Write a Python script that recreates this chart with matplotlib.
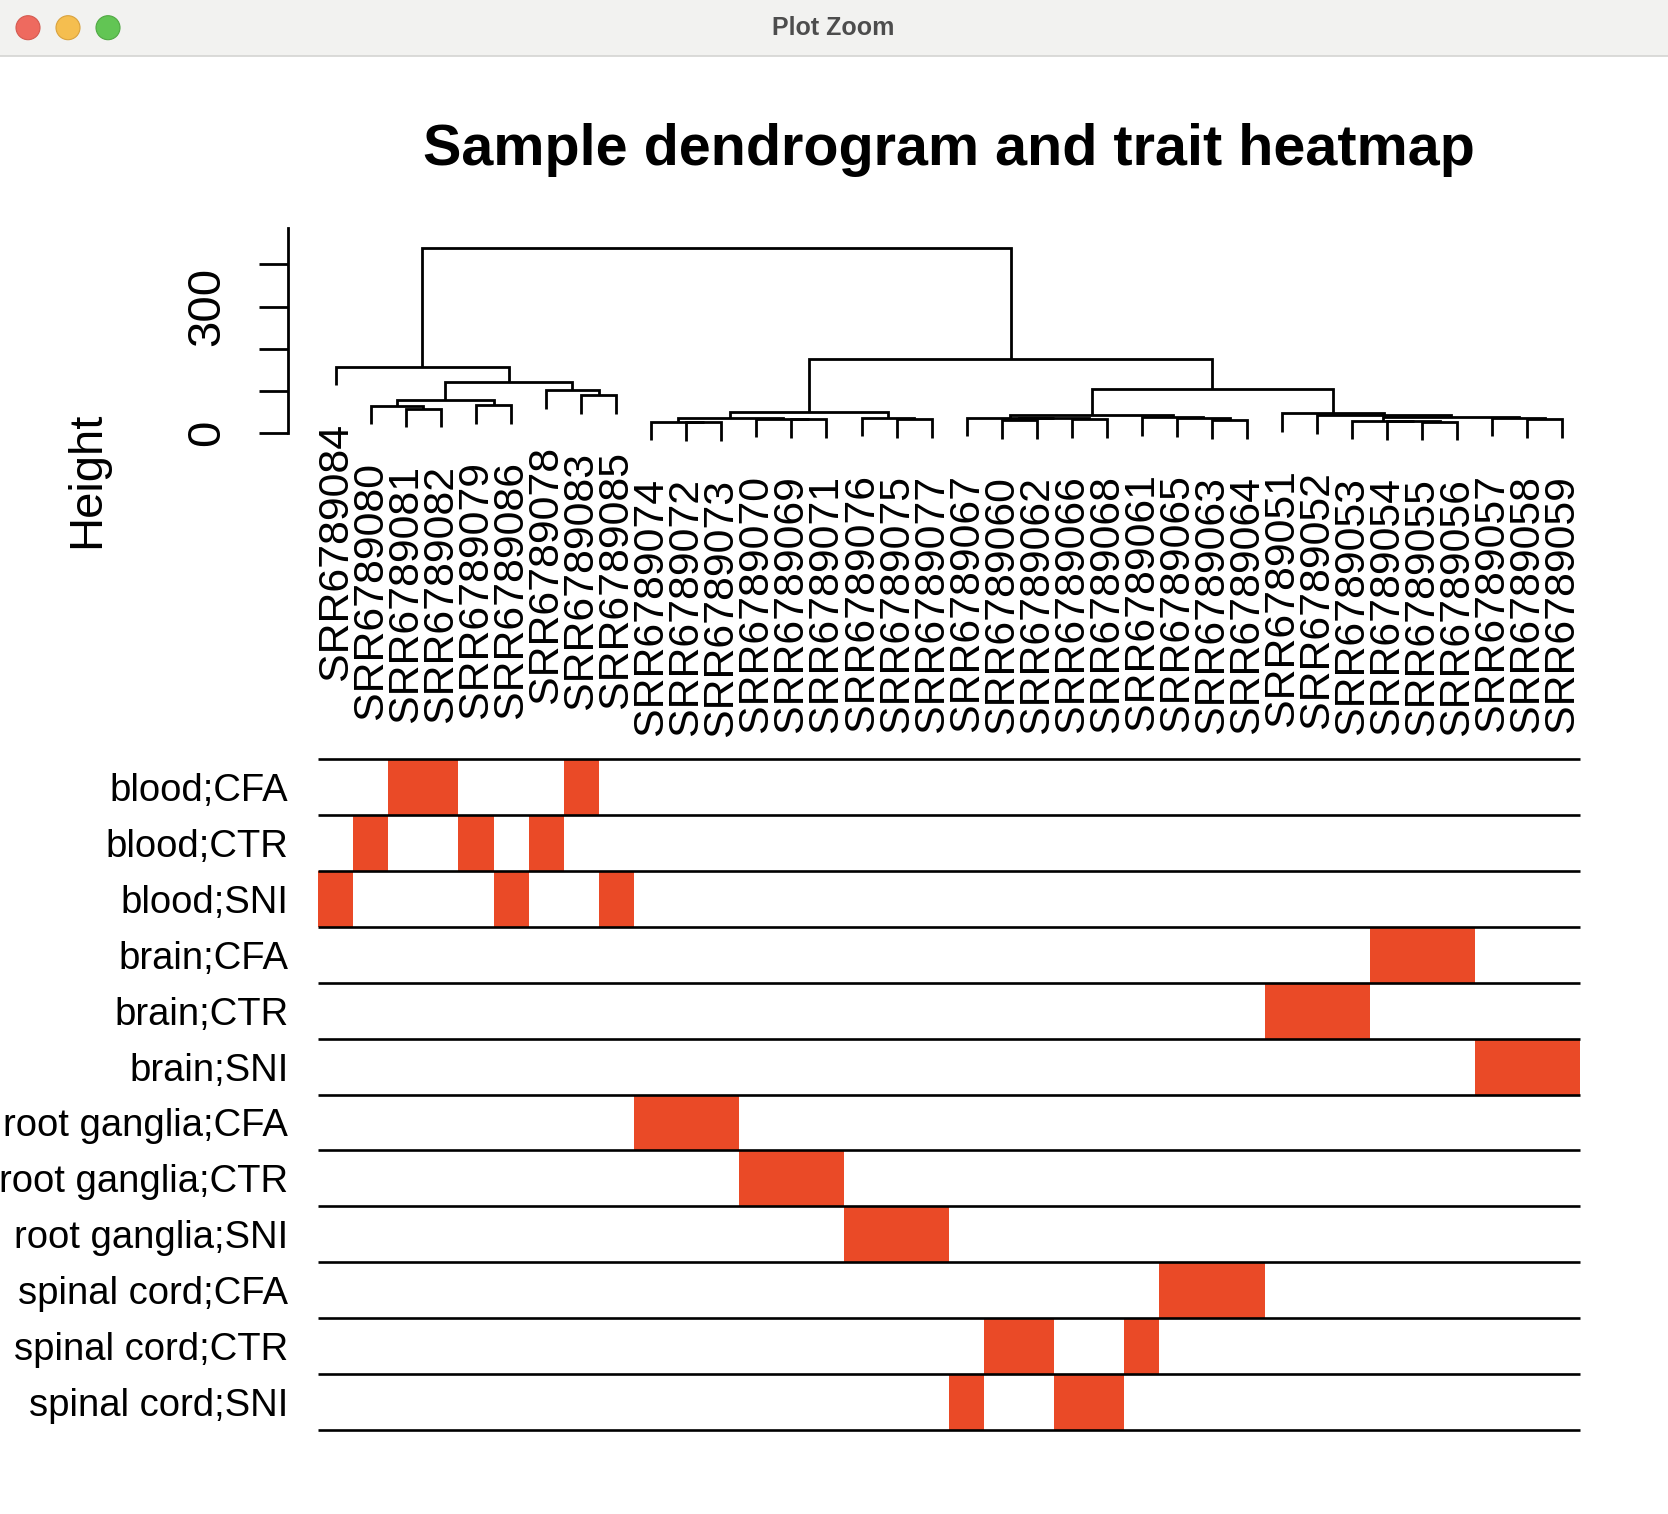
import matplotlib
matplotlib.use("Agg")
import matplotlib.pyplot as plt
import numpy as np
from matplotlib.colors import ListedColormap
from matplotlib.patches import Rectangle, Circle

plt.rcParams['font.family'] = ['Liberation Sans', 'DejaVu Sans']

# ---------------- data ----------------
sample_labels = ["SRR6789084", "SRR6789080", "SRR6789081", "SRR6789082", "SRR6789079",
                 "SRR6789086", "SRR6789078", "SRR6789083", "SRR6789085", "SRR6789074",
                 "SRR6789072", "SRR6789073", "SRR6789070", "SRR6789069", "SRR6789071",
                 "SRR6789076", "SRR6789075", "SRR6789077", "SRR6789067", "SRR6789060",
                 "SRR6789062", "SRR6789066", "SRR6789068", "SRR6789061", "SRR6789065",
                 "SRR6789063", "SRR6789064", "SRR6789051", "SRR6789052", "SRR6789053",
                 "SRR6789054", "SRR6789055", "SRR6789056", "SRR6789057", "SRR6789058",
                 "SRR6789059"]

# hierarchical merges: children are sample names or earlier merge numbers (1-based)
merge_left = ["SRR6789081", "SRR6789080", "SRR6789079", 2, "SRR6789083", "SRR6789078", 4,
              "SRR6789084", "SRR6789072", "SRR6789074", "SRR6789069", "SRR6789070", 10,
              "SRR6789075", "SRR6789076", 13, "SRR6789060", "SRR6789066", 17, "SRR6789067",
              "SRR6789063", "SRR6789065", "SRR6789061", 20, "SRR6789055", "SRR6789054",
              "SRR6789053", "SRR6789058", "SRR6789057", 27, "SRR6789052", "SRR6789051",
              24, 16, 8]
merge_right = ["SRR6789082", 1, "SRR6789086", 3, "SRR6789085", 5, 6, 7,
               "SRR6789073", 9, "SRR6789071", 11, 12, "SRR6789077", 14, 15,
               "SRR6789062", "SRR6789068", 18, 19, "SRR6789064", 21, 22, 23,
               "SRR6789056", 25, 26, "SRR6789059", 28, 29, 30, 31, 32, 33, 34]
merge_height = [58.2, 65.3, 67.0, 78.8, 89.8, 102.4, 120.5, 157.6,
                25.9, 27.5, 33.8, 34.6, 35.4, 33.8, 37.0, 51.1,
                31.4, 33.8, 35.4, 37.0, 31.4, 35.4, 38.0, 43.3,
                27.5, 28.3, 29.9, 33.8, 37.0, 39.3, 43.3, 47.3,
                104.7, 176.8, 439.7]

sample_traits = ["blood;SNI", "blood;CTR", "blood;CFA", "blood;CFA", "blood;CTR",
                 "blood;SNI", "blood;CTR", "blood;CFA", "blood;SNI",
                 "root ganglia;CFA", "root ganglia;CFA", "root ganglia;CFA",
                 "root ganglia;CTR", "root ganglia;CTR", "root ganglia;CTR",
                 "root ganglia;SNI", "root ganglia;SNI", "root ganglia;SNI",
                 "spinal cord;SNI", "spinal cord;CTR", "spinal cord;CTR",
                 "spinal cord;SNI", "spinal cord;SNI", "spinal cord;CTR",
                 "spinal cord;CFA", "spinal cord;CFA", "spinal cord;CFA",
                 "brain;CTR", "brain;CTR", "brain;CTR",
                 "brain;CFA", "brain;CFA", "brain;CFA",
                 "brain;SNI", "brain;SNI", "brain;SNI"]
trait_names = ["blood;CFA", "blood;CTR", "blood;SNI", "brain;CFA", "brain;CTR", "brain;SNI",
               "root ganglia;CFA", "root ganglia;CTR", "root ganglia;SNI",
               "spinal cord;CFA", "spinal cord;CTR", "spinal cord;SNI"]

y_ticks = [0, 100, 200, 300, 400]
y_tick_labels = ["0", "", "", "300", ""]

title = "Sample dendrogram and trait heatmap"
red = "#EA4A27"

# ---------------- figure ----------------
W, H = 1668, 1514
fig = plt.figure(figsize=(W / 100, H / 100), dpi=100)
fig.patch.set_facecolor("white")

# window chrome (pixel coordinate overlay)
chrome = fig.add_axes([0, 0, 1, 1], zorder=-5)
chrome.set_xlim(0, W)
chrome.set_ylim(H, 0)
chrome.axis("off")
chrome.add_patch(Rectangle((0, 0), W, 56, facecolor="#F2F2F0", edgecolor="none"))
chrome.plot([0, W], [56, 56], color="#D4D4D2", lw=1.2)
for cxp, fc, ec in [(28, "#EE6A5F", "#D45A50"), (68, "#F5BE4F", "#D9A23D"), (108, "#62C554", "#50A843")]:
    chrome.add_patch(Circle((cxp, 27.7), 12, facecolor=fc, edgecolor=ec, lw=0.8))
chrome.text(833, 28, "Plot Zoom", ha="center", va="center", fontsize=18,
            fontweight="bold", color="#4D4D4D")

# ---------------- dendrogram ----------------
n = len(sample_labels)
leaf_index = {s: i for i, s in enumerate(sample_labels)}
hang = 0.1 * max(merge_height)

node_x = []
for l, r in zip(merge_left, merge_right):
    xs = []
    for c in (l, r):
        xs.append(leaf_index[c] if isinstance(c, str) else node_x[c - 1])
    node_x.append(sum(xs) / 2.0)

# axes placement (pixels)
ax_left, ax_right = 318.3, 1580.0
y0_px, px_per_unit = 433.3, 0.4225
top_px, bot_px = 215.0, 700.0
h_top = (y0_px - top_px) / px_per_unit
h_bot = (y0_px - bot_px) / px_per_unit

ax = fig.add_axes([ax_left / W, 1 - bot_px / H, (ax_right - ax_left) / W, (bot_px - top_px) / H])
ax.set_xlim(-0.5, n - 0.5)
ax.set_ylim(h_bot, h_top)
ax.patch.set_alpha(0)

leaf_bottom = {}
for k, (l, r, h) in enumerate(zip(merge_left, merge_right, merge_height)):
    xs, ys = [], []
    for c in (l, r):
        if isinstance(c, str):
            xs.append(leaf_index[c])
            ys.append(h - hang)
            leaf_bottom[c] = h - hang
        else:
            xs.append(node_x[c - 1])
            ys.append(merge_height[c - 1])
    ax.plot([xs[0], xs[0], xs[1], xs[1]], [ys[0], h, h, ys[1]],
            color="black", lw=2.0, solid_capstyle="butt", solid_joinstyle="miter", clip_on=False)

for s in sample_labels:
    ax.annotate(s, xy=(leaf_index[s], leaf_bottom[s]), xytext=(0, -27),
                textcoords="offset points", rotation=90, ha="center", va="top",
                fontsize=30.9, annotation_clip=False)

for side in ("top", "right", "bottom"):
    ax.spines[side].set_visible(False)
ax.spines["left"].set_position(("outward", 22))
ax.spines["left"].set_linewidth(2.0)
ax.spines["left"].set_bounds(0, 485)
ax.set_xticks([])
ax.set_yticks(y_ticks)
ax.set_yticklabels(y_tick_labels, rotation=90, va="center", fontsize=34)
ax.tick_params(axis="y", length=21, width=2.0, pad=21)

fig.text(87 / W, 1 - 480 / H, "Height", rotation=90, ha="center", va="center", fontsize=34)
fig.text(949 / W, 1 - 165 / H, title, ha="center", va="baseline", fontsize=41.4, fontweight="bold")

# ---------------- trait heatmap ----------------
hm_top, hm_bot = 759.0, 1430.0
ax2 = fig.add_axes([ax_left / W, 1 - hm_bot / H, (ax_right - ax_left) / W, (hm_bot - hm_top) / H])
M = np.array([[1 if st == t else 0 for st in sample_traits] for t in trait_names])
ax2.pcolormesh(np.arange(n + 1) - 0.5, np.arange(len(trait_names) + 1), M,
               cmap=ListedColormap(["white", red]), vmin=0, vmax=1)
ax2.set_xlim(-0.5, n - 0.5)
ax2.set_ylim(len(trait_names), 0)
ax2.hlines(np.arange(len(trait_names) + 1), -0.5, n - 0.5, color="black", lw=1.9, clip_on=False)
for sp in ax2.spines.values():
    sp.set_visible(False)
ax2.set_xticks([])
ax2.set_yticks(np.arange(len(trait_names)) + 0.5)
ax2.set_yticklabels(trait_names, fontsize=27.5)
ax2.tick_params(axis="y", length=0, pad=21.6)

fig.savefig("out.png", dpi=100)
